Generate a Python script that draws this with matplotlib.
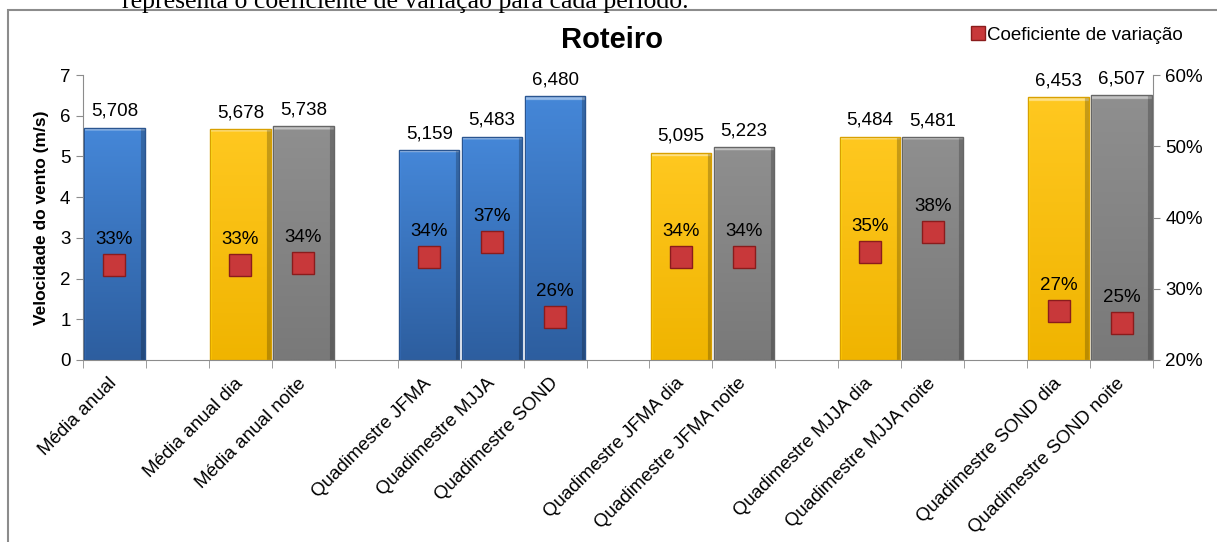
import numpy as np
import matplotlib.pyplot as plt
from matplotlib.colors import to_rgb
from matplotlib.lines import Line2D
from matplotlib.patches import Rectangle
from matplotlib.ticker import PercentFormatter

plt.rcParams['font.family'] = ['Liberation Sans', 'DejaVu Sans']

# categorias (espacos vazios separam os grupos)
categorias = ['Média anual', '', 'Média anual dia', 'Média anual noite', '',
              'Quadimestre JFMA', 'Quadimestre MJJA', 'Quadimestre SOND', '',
              'Quadimestre JFMA dia', 'Quadimestre JFMA noite', '',
              'Quadimestre MJJA dia', 'Quadimestre MJJA noite', '',
              'Quadimestre SOND dia', 'Quadimestre SOND noite']
periodo = ['total', '', 'dia', 'noite', '',
           'total', 'total', 'total', '',
           'dia', 'noite', '',
           'dia', 'noite', '',
           'dia', 'noite']
nan = np.nan
velocidade = [5.708, nan, 5.678, 5.738, nan, 5.159, 5.483, 6.480, nan,
              5.095, 5.223, nan, 5.484, 5.481, nan, 6.453, 6.507]
coef_var = [0.334, nan, 0.334, 0.336, nan, 0.344, 0.366, 0.260, nan,
            0.345, 0.345, nan, 0.352, 0.380, nan, 0.269, 0.252]

cores = {'total': ('#4587d8', '#2d5e9f', '#2a5590'),
         'dia': ('#ffc820', '#f0b400', '#d9a000'),
         'noite': ('#8f8f8f', '#797979', '#666666')}

fig = plt.figure(figsize=(12.17, 5.42), dpi=100)
W, H = 1217, 542

# borda do grafico e texto cortado no topo
fig.add_artist(Rectangle((8 / W, -0.05), 1.1, 1 - 10 / H + 0.05, transform=fig.transFigure,
                         fill=False, edgecolor='#8c8c8c', linewidth=1.5))
fig.text(122 / W, 1 - 8 / H, 'representa o coeficiente de variação para cada período.',
         family='Liberation Serif', fontsize=18.5, ha='left', va='baseline')

ax = fig.add_axes([83 / W, 1 - 360 / H, (1153 - 83) / W, (360 - 75) / H])
ax2 = ax.twinx()

x = np.arange(len(categorias))


def gradiente(topo, base, h):
    ny, nx = 200, 60
    c1, c2 = np.array(to_rgb(topo)), np.array(to_rgb(base))
    t = np.linspace(0, 1, ny)[:, None, None]
    img = c1 * (1 - t) + c2 * t
    img = np.repeat(img, nx, axis=1)
    faixa = max(2, int(round(ny * 0.09 / h)))
    img[:faixa] = img[:faixa] * 0.55 + 0.45
    img[:, :2] = np.clip(img[:, :2] * 1.12, 0, 1)
    img[:, -4:] = img[:, -4:] * 0.78
    return np.clip(img, 0, 1)


for xi, v, p in zip(x, velocidade, periodo):
    if np.isnan(v):
        continue
    topo, base, borda = cores[p]
    rect = ax.bar(xi, v, width=0.96, facecolor='none', edgecolor=borda,
                  linewidth=1, zorder=3)[0]
    im = ax.imshow(gradiente(topo, base, v), extent=(rect.get_x(), rect.get_x() + rect.get_width(), 0, v),
                   aspect='auto', origin='upper', zorder=2, interpolation='bilinear')
    im.set_clip_path(rect)
    ax.text(xi, v + 0.29, f'{v:.3f}'.replace('.', ','), ha='center', va='baseline',
            fontsize=13.5, zorder=4)

ax2.plot(x, coef_var, linestyle='none', marker='s', markersize=16,
         markerfacecolor='#c8383a', markeredgecolor='#8a1c1c', markeredgewidth=1,
         label='Coeficiente de variação', zorder=5)
for xi, c in zip(x, coef_var):
    if np.isnan(c):
        continue
    ax2.text(xi, c + 0.0295, f'{c:.0%}', ha='center', va='baseline', fontsize=13.5)

ax.set_xlim(-0.5, len(categorias) - 0.5)
ax.set_ylim(0, 7)
ax2.set_ylim(0.2, 0.6)

cinza = '#8c8c8c'
for s in ['top', 'right']:
    ax.spines[s].set_visible(False)
for s in ['top', 'left', 'bottom']:
    ax2.spines[s].set_visible(False)
ax.spines['left'].set_color(cinza)
ax.spines['bottom'].set_color(cinza)
ax2.spines['right'].set_color(cinza)

ax.set_yticks(range(8))
ax.set_xticks(x)
ax.set_xticklabels(categorias, rotation=45, ha='right', va='center', rotation_mode='anchor')
ax.set_xticks(np.arange(len(categorias) + 1) - 0.5, minor=True)
ax.tick_params(axis='x', which='major', length=0, pad=15, labelsize=13.5)
ax.tick_params(axis='x', which='minor', length=6, color=cinza, direction='out')
ax.tick_params(axis='y', length=5, color=cinza, labelsize=13.5, pad=4)
ax2.tick_params(axis='y', length=5, color=cinza, labelsize=13.5, pad=4)
ax2.yaxis.set_major_formatter(PercentFormatter(1.0, decimals=0))
ax2.set_yticks([0.2, 0.3, 0.4, 0.5, 0.6])

ax.set_ylabel('Velocidade do vento (m/s)', fontsize=12.5, fontweight='bold', labelpad=8)

fig.text(612 / W, 1 - 40 / H, 'Roteiro', fontsize=21, fontweight='bold', ha='center', va='center')

handle = Line2D([], [], linestyle='none', marker='s', markersize=10,
                markerfacecolor='#c8383a', markeredgecolor='#8a1c1c')
fig.legend([handle], ['Coeficiente de variação'], loc='center left',
           bbox_to_anchor=(962 / W, 1 - 35 / H), frameon=False, fontsize=13.5,
           handlelength=0.7, handletextpad=0.15, borderpad=0)

fig.savefig('out.png', dpi=100)
